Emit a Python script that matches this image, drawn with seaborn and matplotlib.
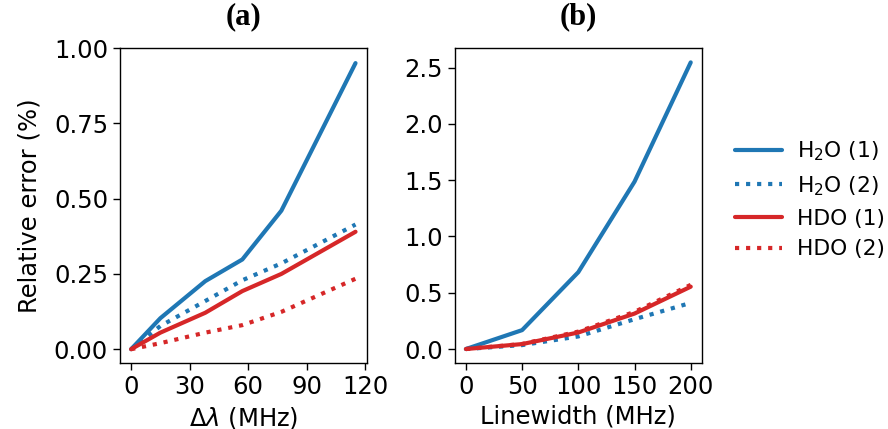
import numpy as np
import pandas as pd
import matplotlib as mpl
mpl.use('Agg')
import matplotlib.pyplot as plt
import seaborn as sns

# panel (a): relative error vs detuning
dl = [0, 15, 38, 57, 77, 115]
a_h2o_1 = [0.0, 0.103, 0.226, 0.298, 0.46, 0.95]
a_h2o_2 = [0.0, 0.077, 0.16, 0.229, 0.285, 0.414]
a_hdo_1 = [0.0, 0.055, 0.121, 0.193, 0.25, 0.39]
a_hdo_2 = [0.0, 0.02, 0.055, 0.08, 0.124, 0.234]

# panel (b): relative error vs linewidth
lw = [0, 50, 100, 150, 200]
b_h2o_1 = [0.0, 0.168, 0.683, 1.487, 2.547]
b_h2o_2 = [0.0, 0.035, 0.112, 0.265, 0.41]
b_hdo_1 = [0.0, 0.044, 0.147, 0.315, 0.554]
b_hdo_2 = [0.0, 0.045, 0.155, 0.33, 0.57]

labels = ["H$_2$O (1)", "H$_2$O (2)", "HDO (1)", "HDO (2)"]
colors = ["#1f77b4", "#1f77b4", "#d62728", "#d62728"]
styles = ["-", ":", "-", ":"]

sns.set_style("ticks")
plt.rcParams.update({
    "axes.edgecolor": "black",
    "text.color": "black",
    "axes.labelcolor": "black",
    "xtick.color": "black",
    "ytick.color": "black",
    "axes.linewidth": 1.0,
})
plt.rcParams['font.family'] = ['DejaVu Sans']

fig = plt.figure(figsize=(8.88, 4.29), dpi=100)
ax1 = fig.add_axes([0.135, 0.153, 0.278, 0.735])
ax2 = fig.add_axes([0.512, 0.153, 0.2785, 0.735])

series_a = [a_h2o_1, a_h2o_2, a_hdo_1, a_hdo_2]
series_b = [b_h2o_1, b_h2o_2, b_hdo_1, b_hdo_2]

for ys, lab, c, ls in zip(series_a, labels, colors, styles):
    sns.lineplot(x=dl, y=ys, ax=ax1, color=c, linestyle=ls, linewidth=3, label=lab, legend=False)
for ys, lab, c, ls in zip(series_b, labels, colors, styles):
    sns.lineplot(x=lw, y=ys, ax=ax2, color=c, linestyle=ls, linewidth=3, label=lab, legend=False)

ax1.set_xticks([0, 30, 60, 90, 120])
ax1.set_yticks([0, 0.25, 0.5, 0.75, 1.0])
ax1.set_yticklabels(["0.00", "0.25", "0.50", "0.75", "1.00"])
ax1.set_ylim(-0.047, 1.0)
ax2.set_xticks([0, 50, 100, 150, 200])
ax2.set_yticks([0, 0.5, 1.0, 1.5, 2.0, 2.5])

fs = 17.5
for ax in (ax1, ax2):
    ax.tick_params(labelsize=fs, length=5, width=1)

ax1.set_xlabel(r"$\Delta\lambda$ (MHz)", fontsize=fs)
ax2.set_xlabel("Linewidth (MHz)", fontsize=fs)
ax1.set_ylabel("Relative error (%)", fontsize=fs, labelpad=9)

title_font = dict(family="Liberation Serif", weight="bold", size=22)
ax1.set_title("(a)", fontdict=title_font, pad=17)
ax2.set_title("(b)", fontdict=title_font, pad=17)

handles, labs = ax2.get_legend_handles_labels()
fig.legend(handles, labs, loc="center left", bbox_to_anchor=(0.806, 0.535),
           frameon=False, fontsize=15.7, handlelength=2.15, handletextpad=0.7,
           labelspacing=0.5)

plt.savefig("out.png", dpi=100)
